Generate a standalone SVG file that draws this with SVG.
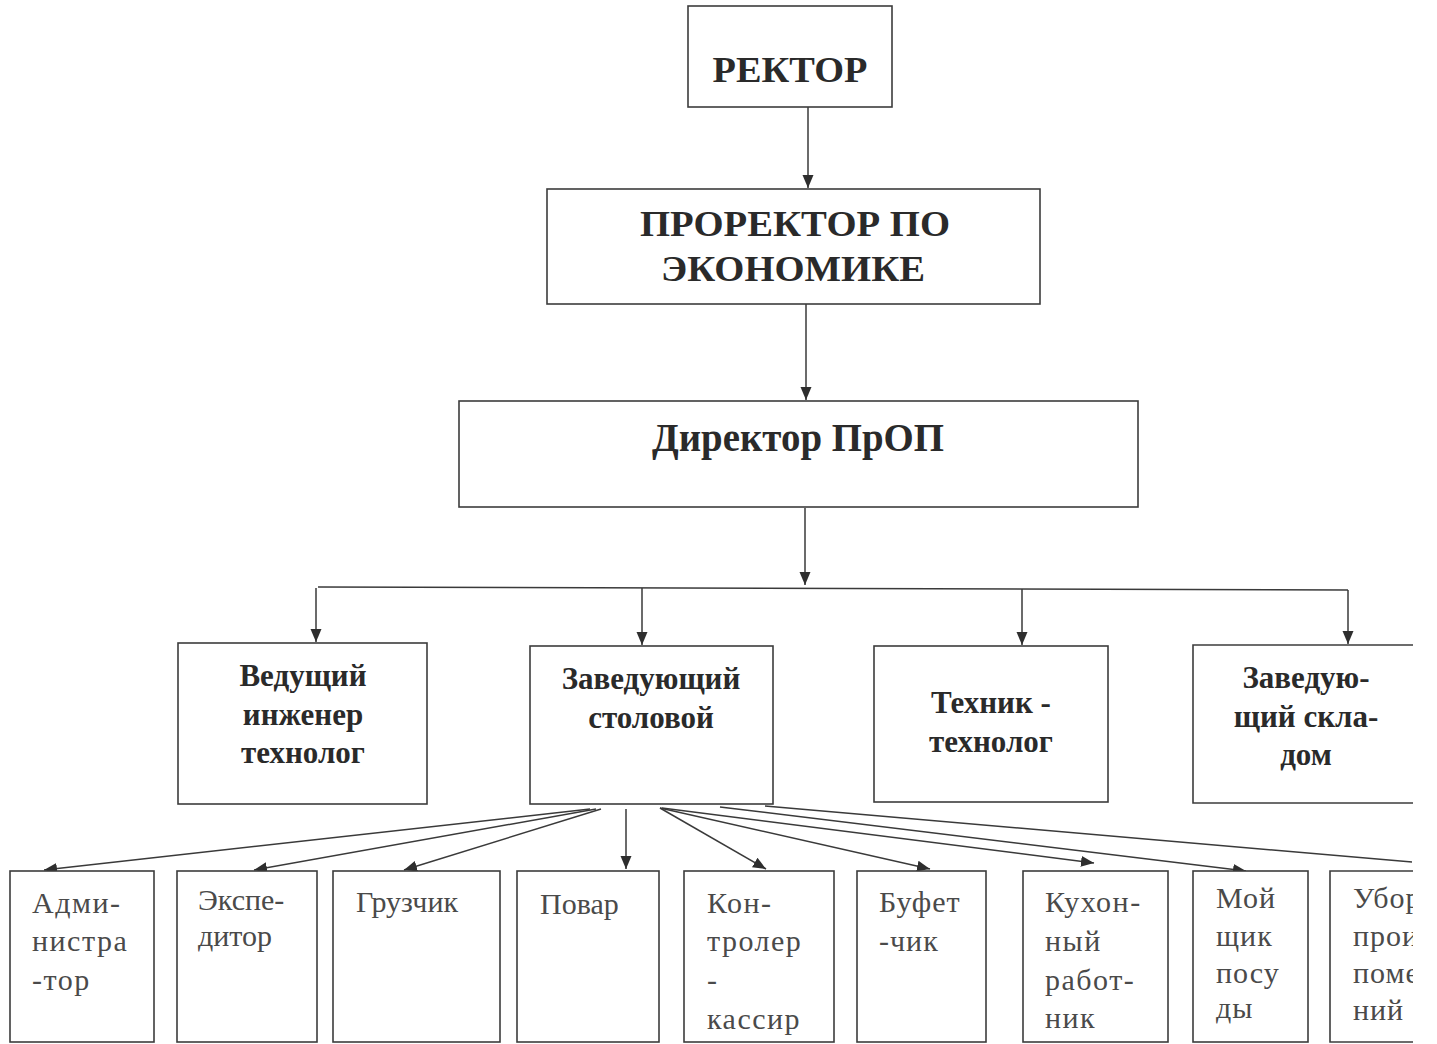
<svg xmlns="http://www.w3.org/2000/svg" width="1437" height="1044" viewBox="0 0 1437 1044">
<style>
.box{fill:#fff;stroke:#3c3c3c;stroke-width:1.6}
.open{fill:none;stroke:#3c3c3c;stroke-width:1.6}
.t{font-family:"Liberation Serif","Times New Roman",serif;font-weight:bold;fill:#2a2a2a;text-anchor:middle}
.s{font-family:"Liberation Serif","Times New Roman",serif;fill:#4a4a4a;font-size:30px}
.c line,.c path{stroke:#3a3a3a;stroke-width:1.5;fill:none}
</style>
<defs>
<marker id="ah" markerUnits="userSpaceOnUse" markerWidth="14" markerHeight="12" refX="13" refY="5.5" orient="auto">
<path d="M0,0 L13,5.5 L0,11 z" fill="#2e2e2e"/>
</marker>
<clipPath id="cut"><rect x="0" y="0" width="1413" height="1044"/></clipPath>
</defs>
<rect width="1437" height="1044" fill="#fff"/>

<g class="c" id="connectors">
<line x1="808" y1="107" x2="808" y2="188" marker-end="url(#ah)"/>
<line x1="806" y1="304" x2="806" y2="400" marker-end="url(#ah)"/>
<line x1="805" y1="508" x2="805" y2="585" marker-end="url(#ah)"/>
<path d="M318,587 L1348,590"/>
<line x1="316" y1="588" x2="316" y2="642" marker-end="url(#ah)"/>
<line x1="642" y1="588" x2="642" y2="645" marker-end="url(#ah)"/>
<line x1="1022" y1="589" x2="1022" y2="645" marker-end="url(#ah)"/>
<line x1="1348" y1="590" x2="1348" y2="644" marker-end="url(#ah)"/>
<line x1="590" y1="809" x2="44" y2="870" marker-end="url(#ah)"/>
<line x1="596" y1="809" x2="254" y2="870" marker-end="url(#ah)"/>
<line x1="601" y1="809" x2="404" y2="870" marker-end="url(#ah)"/>
<line x1="626" y1="809" x2="626" y2="869" marker-end="url(#ah)"/>
<line x1="660" y1="808" x2="766" y2="869" marker-end="url(#ah)"/>
<line x1="660" y1="808" x2="930" y2="869" marker-end="url(#ah)"/>
<line x1="662" y1="808" x2="1094" y2="863" marker-end="url(#ah)"/>
<line x1="720" y1="807" x2="1246" y2="871" marker-end="url(#ah)"/>
<line x1="765" y1="806" x2="1412" y2="862"/>
</g>

<g id="rector">
<rect class="box" x="688" y="6" width="204" height="101"/>
<text class="t" x="790" y="82" font-size="36" textLength="155" lengthAdjust="spacingAndGlyphs">РЕКТОР</text>
</g>
<g id="prorector">
<rect class="box" x="547" y="189" width="493" height="115"/>
<text class="t" x="795" y="236" font-size="35" textLength="310" lengthAdjust="spacingAndGlyphs">ПРОРЕКТОР ПО</text>
<text class="t" x="793" y="281" font-size="35" textLength="264" lengthAdjust="spacingAndGlyphs">ЭКОНОМИКЕ</text>
</g>
<g id="director">
<rect class="box" x="459" y="401" width="679" height="106"/>
<text class="t" x="798" y="451" font-size="40" textLength="292" lengthAdjust="spacingAndGlyphs">Директор ПрОП</text>
</g>

<g id="lead-engineer">
<rect class="box" x="178" y="643" width="249" height="161"/>
<text class="t" x="303" y="686" font-size="31">Ведущий</text>
<text class="t" x="303" y="725" font-size="31">инженер</text>
<text class="t" x="303" y="763" font-size="31">технолог</text>
</g>
<g id="canteen-head">
<rect class="box" x="530" y="646" width="243" height="158"/>
<text class="t" x="651" y="689" font-size="31">Заведующий</text>
<text class="t" x="651" y="728" font-size="31">столовой</text>
</g>
<g id="technician">
<rect class="box" x="874" y="646" width="234" height="156"/>
<text class="t" x="991" y="713" font-size="31">Техник -</text>
<text class="t" x="991" y="752" font-size="31">технолог</text>
</g>
<g id="warehouse-head">
<path class="open" d="M1413,645 H1193 V803 H1413"/>
<text class="t" x="1306" y="688" font-size="31">Заведую-</text>
<text class="t" x="1306" y="727" font-size="31">щий скла-</text>
<text class="t" x="1306" y="765" font-size="31">дом</text>
</g>

<g id="administrator">
<rect class="box" x="10" y="871" width="144" height="171"/>
<text class="s" x="32" y="913" letter-spacing="1.5">Адми-</text>
<text class="s" x="32" y="951" letter-spacing="1.5">нистра</text>
<text class="s" x="32" y="990" letter-spacing="1.5">-тор</text>
</g>
<g id="expeditor">
<rect class="box" x="177" y="871" width="140" height="171"/>
<text class="s" x="198" y="910">Экспе-</text>
<text class="s" x="198" y="946">дитор</text>
</g>
<g id="loader">
<rect class="box" x="333" y="871" width="167" height="171"/>
<text class="s" x="356" y="912">Грузчик</text>
</g>
<g id="cook">
<rect class="box" x="517" y="871" width="142" height="171"/>
<text class="s" x="540" y="914">Повар</text>
</g>
<g id="cashier">
<rect class="box" x="684" y="871" width="150" height="171"/>
<text class="s" x="707" y="913" letter-spacing="1.5">Кон-</text>
<text class="s" x="707" y="951" letter-spacing="1.5">тролер</text>
<text class="s" x="707" y="990" letter-spacing="1.5">-</text>
<text class="s" x="707" y="1029" letter-spacing="1.5">кассир</text>
</g>
<g id="barman">
<rect class="box" x="857" y="871" width="129" height="171"/>
<text class="s" x="879" y="912" letter-spacing="1">Буфет</text>
<text class="s" x="879" y="951" letter-spacing="1">-чик</text>
</g>
<g id="kitchen-worker">
<rect class="box" x="1023" y="871" width="145" height="171"/>
<text class="s" x="1045" y="912" letter-spacing="1.5">Кухон-</text>
<text class="s" x="1045" y="951" letter-spacing="1.5">ный</text>
<text class="s" x="1045" y="990" letter-spacing="1.5">работ-</text>
<text class="s" x="1045" y="1028" letter-spacing="1.5">ник</text>
</g>
<g id="dishwasher">
<rect class="box" x="1193" y="871" width="115" height="171"/>
<text class="s" x="1216" y="908" font-size="28" letter-spacing="1">Мой</text>
<text class="s" x="1216" y="946" font-size="28" letter-spacing="1">щик</text>
<text class="s" x="1216" y="983" font-size="28" letter-spacing="1">посу</text>
<text class="s" x="1216" y="1018" font-size="28" letter-spacing="1">ды</text>
</g>
<g id="cleaner" clip-path="url(#cut)">
<path class="open" d="M1413,871 H1330 V1042 H1413"/>
<text class="s" x="1353" y="908" font-size="28" letter-spacing="1">Убор</text>
<text class="s" x="1353" y="946" font-size="28" letter-spacing="1">прои</text>
<text class="s" x="1353" y="983" font-size="28" letter-spacing="1">поме</text>
<text class="s" x="1353" y="1020" font-size="28" letter-spacing="1">ний</text>
</g>
</svg>
